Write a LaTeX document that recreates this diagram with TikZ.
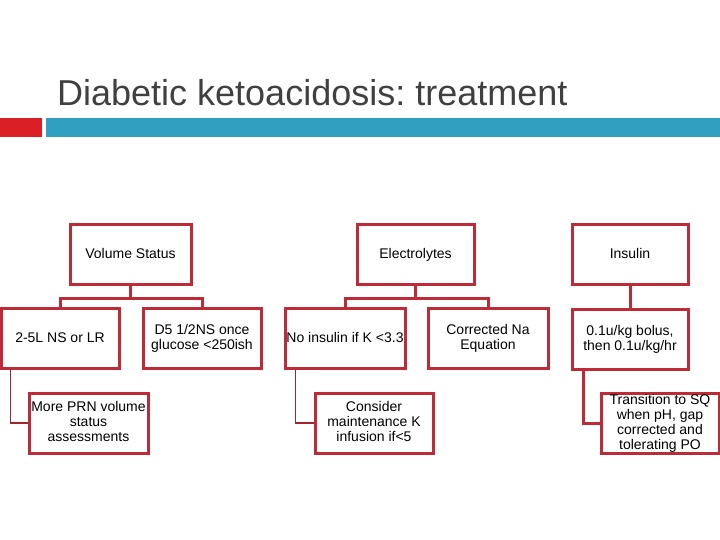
\documentclass[tikz,border=0pt]{standalone}
\usepackage{fontspec}
\setmainfont{Liberation Sans}
\frenchspacing
\definecolor{boxred}{HTML}{BE2A36}
\definecolor{barred}{HTML}{DA1F26}
\definecolor{barteal}{HTML}{2FA0BF}
\definecolor{titlegray}{HTML}{404040}
\tikzset{
  box/.style={draw=boxred, line width=3pt, minimum width=118pt, minimum height=60pt,
    inner sep=0pt, align=center, font=\fontsize{14}{15}\selectfont,
    execute at begin node=\rule{0pt}{11pt},
    execute at end node=\rule[-3pt]{0pt}{3pt}},
  tree/.style={draw=boxred, line width=3pt},
  sub/.style={draw=boxred!85!black, line width=1.2pt}
}
\begin{document}
\begin{tikzpicture}[x=1pt, y=-1pt]
\useasboundingbox (0,0) rectangle (720,540);

% Title and bars
\node[anchor=base west, inner sep=0pt, text=titlegray, font=\fontsize{36}{40}\selectfont] (title) at (57,106) {Diabetic ketoacidosis: treatment};
\fill[barred] (0,118) rectangle (42,137);
\fill[barteal] (46,118) rectangle (720,137);

% Volume status branch
\node[box, minimum width=121pt] (vol) at (130.5,254.5) {Volume Status};
\node[box] (ns) at (60,338.5) {2-5L NS or LR};
\node[box] (dfive) at (202,338.5) {D5 1/2NS once\\glucose <250ish};
\node[box, minimum width=119pt] (prn) at (88.5,423) {More PRN volume\\status\\assessments};

% Electrolytes branch
\node[box, minimum width=117pt] (elec) at (415.5,254.5) {Electrolytes};
\node[box, minimum width=120pt] (noins) at (345,338.5) {No insulin if K <3.3};
\node[box, minimum width=120pt] (na) at (488,338.5) {Corrected Na\\Equation};
\node[box] (kinf) at (374,423) {Consider\\maintenance K\\infusion if<5};

% Insulin branch
\node[box, minimum width=116pt] (ins) at (630,254.5) {Insulin};
\node[box, minimum width=116pt] (bolus) at (630,339) {0.1u/kg bolus,\\then 0.1u/kg/hr};
\node[box] (sq) at (660,423) {Transition to SQ\\when pH, gap\\corrected and\\tolerating PO};

% Tree connectors
\draw[tree] (vol.south) -- ++(0,12) -| (ns.north);
\draw[tree] (vol.south) -- ++(0,12) -| (dfive.north);
\draw[tree] (elec.south) -- ++(0,12) -| (noins.north);
\draw[tree] (elec.south) -- ++(0,12) -| (na.north);
\draw[tree] (ins.south) -- (bolus.north);

% Sub-item connectors
\draw[sub] ([xshift=11pt]ns.south west) |- (prn.west);
\draw[sub] ([xshift=12pt]noins.south west) |- (kinf.west);
\draw[tree] ([xshift=13pt]bolus.south west) |- (sq.west);

\end{tikzpicture}
\end{document}
